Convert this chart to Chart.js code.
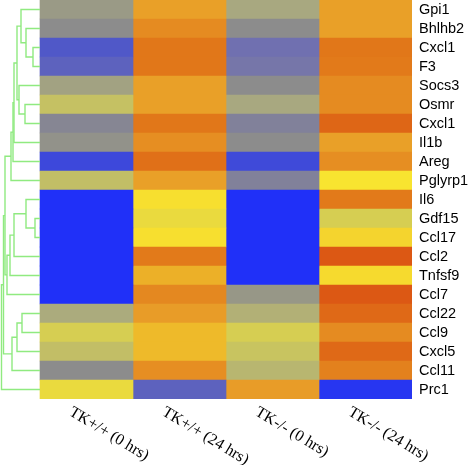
<!DOCTYPE html>
<html>
<head>
<meta charset="utf-8">
<script src="https://cdn.jsdelivr.net/npm/chart.js@4/dist/chart.umd.min.js"></script>
<style>
html,body{margin:0;padding:0;background:#fff;}
canvas{display:block;}
</style>
</head>
<body>
<canvas id="c" width="470" height="465"></canvas>
<script>
// ---- data ----
const genes = ['Gpi1','Bhlhb2','Cxcl1','F3','Socs3','Osmr','Cxcl1','Il1b','Areg','Pglyrp1','Il6','Gdf15','Ccl17','Ccl2','Tnfsf9','Ccl7','Ccl22','Ccl9','Cxcl5','Ccl11','Prc1'];
const conditions = ['TK+/+ (0 hrs)','TK+/+ (24 hrs)','TK-/- (0 hrs)','TK-/- (24 hrs)'];
const tkWt0h  = [-0.75,-1.0,-2.0,-1.8,-0.6,-0.05,-1.1,-0.9,-2.4,-0.1,-3,-3,-3,-3,-3,-3,-0.45,0.15,-0.1,-1.0,0.35];
const tkWt24h = [1.4,1.75,2.05,2.05,1.4,1.4,2.05,1.7,2.15,1.4,0.55,0.35,0.55,2.0,1.0,1.8,1.5,0.9,0.9,1.7,-1.8];
const tkKo0h  = [-0.5,-1.0,-1.5,-1.4,-1.0,-0.5,-1.2,-1.0,-2.35,-1.2,-3,-3,-3,-3,-3,-0.8,-0.35,0.15,0.0,-0.25,1.5];
const tkKo24h = [1.4,1.4,2.05,2.0,1.75,1.75,2.3,1.4,1.7,0.5,2.0,0.15,0.65,2.5,0.6,2.5,2.25,1.75,2.25,1.9,-2.85];
// dendrogram merges: [childA, childB, height]; leaves are 0..20, merge k creates node 21+k
const dendroMerges = [
  [2,3,7],[1,21,14],[0,22,19],[5,6,15],[4,24,21],[23,25,23],[26,7,26],[27,8,27],[28,9,29],
  [11,12,5],[10,30,14],[31,13,26],[32,14,30],[33,15,33],
  [16,17,18],[35,18,23],[36,19,28],
  [29,34,35],[38,37,36.5],[39,20,38.5]
];

// ---- styling ----
const colorStops = [
  [-3,[32,48,248]],[-2,[80,88,200]],[-1.5,[112,112,176]],[-1,[140,140,140]],
  [-0.5,[168,168,128]],[0,[200,196,96]],[0.5,[248,228,48]],[1,[236,176,40]],
  [1.5,[232,156,40]],[2,[226,122,26]],[2.5,[220,88,20]]
];
function colorFor(v){
  if (v <= colorStops[0][0]) return 'rgb(' + colorStops[0][1].join(',') + ')';
  for (let i = 1; i < colorStops.length; i++){
    const [v1,c1] = colorStops[i];
    const [v0,c0] = colorStops[i-1];
    if (v <= v1){
      const t = (v - v0)/(v1 - v0);
      return 'rgb(' + c0.map((a,k)=>Math.round(a + (c1[k]-a)*t)).join(',') + ')';
    }
  }
  return 'rgb(' + colorStops[colorStops.length-1][1].join(',') + ')';
}
const dendroWidthUnits = 40/93;   // dendrogram spans this much of x-axis left of 0
const dendroMaxHeight = 40;
const hToX = h => -h / dendroMaxHeight * dendroWidthUnits;

const columns = [tkWt0h, tkWt24h, tkKo0h, tkKo24h];
const datasets = [];
columns.forEach((vals, c) => {
  datasets.push({
    type: 'bar',
    indexAxis: 'y',
    data: vals.map((v, i) => ({ x: [c, c + 1], y: i })),
    backgroundColor: vals.map(colorFor),
    borderWidth: 0,
    grouped: false,
    categoryPercentage: 1,
    barPercentage: 1,
    order: 2
  });
});

// dendrogram node positions
const nodeY = genes.map((g, i) => i);
const nodeH = genes.map(() => 0);
dendroMerges.forEach(([a, b, h]) => {
  const ya = nodeY[a], yb = nodeY[b];
  datasets.push({
    type: 'line',
    data: [
      { x: hToX(nodeH[a]), y: ya },
      { x: hToX(h), y: ya },
      { x: hToX(h), y: yb },
      { x: hToX(nodeH[b]), y: yb }
    ],
    borderColor: '#90ea80',
    borderWidth: 1.4,
    pointRadius: 0,
    fill: false,
    tension: 0,
    order: 1
  });
  nodeY.push((ya + yb) / 2);
  nodeH.push(h);
});

const colLabelPlugin = {
  id: 'colLabels',
  afterDraw(chart) {
    const { ctx, chartArea } = chart;
    const x = chart.scales.x;
    ctx.save();
    ctx.font = '16px "Liberation Serif", "Times New Roman", serif';
    ctx.fillStyle = '#000';
    ctx.textAlign = 'left';
    ctx.textBaseline = 'top';
    conditions.forEach((lab, c) => {
      const cx = x.getPixelForValue(c + 0.5);
      ctx.save();
      ctx.translate(cx - 12, chartArea.bottom + 5);
      ctx.rotate(31 * Math.PI / 180);
      ctx.fillText(lab, 0, 0);
      ctx.restore();
    });
    ctx.restore();
  }
};

new Chart(document.getElementById('c'), {
  type: 'bar',
  data: { datasets },
  plugins: [colLabelPlugin],
  options: {
    responsive: false,
    animation: false,
    events: [],
    layout: { padding: { left: 0, right: 0, top: 0, bottom: 66 } },
    plugins: { legend: { display: false }, tooltip: { enabled: false } },
    scales: {
      x: {
        type: 'linear',
        min: -dendroWidthUnits,
        max: 4,
        offset: false,
        display: false,
        grid: { display: false, offset: false }
      },
      y: {
        type: 'linear',
        position: 'right',
        reverse: true,
        min: -0.5,
        max: genes.length - 0.5,
        offset: false,
        grid: { display: false, drawTicks: false, offset: false },
        border: { display: false },
        afterBuildTicks: s => { s.ticks = genes.map((g, i) => ({ value: i })); },
        afterFit: s => { s.width = 58; s.paddingTop = 0; s.paddingBottom = 0; },
        ticks: {
          autoSkip: false,
          padding: 7,
          color: '#000',
          font: { family: '"Liberation Sans", Arial, sans-serif', size: 14.5 },
          callback: (v, i) => genes[i]
        }
      }
    }
  }
});
</script>
</body>
</html>
